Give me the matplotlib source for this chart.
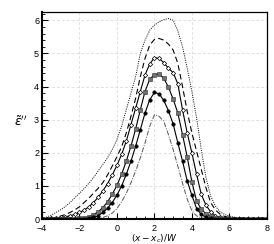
import matplotlib
matplotlib.use('Agg')
import matplotlib.pyplot as plt
import numpy as np
from matplotlib.ticker import MultipleLocator

plt.rcParams['font.family'] = ['Liberation Sans', 'DejaVu Sans']
plt.rcParams['mathtext.fontset'] = 'dejavusans'

# x positions (x - x_c)/W
x = np.arange(-4, 8.01, 0.25)

# profiles, outermost to innermost
dotted = [0.02, 0.06, 0.12, 0.2, 0.28, 0.38, 0.5, 0.64, 0.78, 0.92, 1.08, 1.25, 1.45,
          1.65, 1.85, 2.1, 2.4, 2.8, 3.3, 3.8, 4.3, 5.0, 5.4, 5.7, 5.85, 5.95, 6.02,
          6.05, 6.0, 5.68, 5.2, 4.55, 3.85, 3.05, 2.1, 1.25, 0.7, 0.4, 0.22, 0.14,
          0.09, 0.06, 0.04, 0.03, 0.02, 0.02, 0.01, 0.01, 0.01]
dashed = [0.0, 0.01, 0.03, 0.05, 0.09, 0.14, 0.2, 0.28, 0.37, 0.5, 0.63, 0.78, 0.93,
          1.1, 1.33, 1.6, 1.88, 2.18, 2.6, 3.1, 3.65, 4.3, 4.85, 5.25, 5.42, 5.45,
          5.4, 5.28, 5.1, 4.7, 4.0, 3.25, 2.6, 2.05, 1.5, 0.95, 0.5, 0.28, 0.15, 0.08,
          0.05, 0.03, 0.02, 0.01, 0.01, 0.01, 0.0, 0.0, 0.0]
diamond = [0.0, 0.01, 0.02, 0.03, 0.05, 0.07, 0.1, 0.14, 0.2, 0.27, 0.37, 0.5, 0.66,
           0.85, 1.07, 1.33, 1.62, 1.95, 2.35, 2.85, 3.35, 3.85, 4.35, 4.68, 4.87,
           4.85, 4.72, 4.55, 4.42, 4.08, 3.3, 2.6, 2.0, 1.35, 0.75, 0.42, 0.22, 0.1,
           0.05, 0.03, 0.02, 0.01, 0.01, 0.01, 0.0, 0.0, 0.0, 0.0, 0.0]
square = [0.0, 0.0, 0.0, 0.0, 0.0, 0.01, 0.01, 0.01, 0.02, 0.04, 0.07, 0.13, 0.22,
          0.35, 0.52, 0.75, 1.02, 1.35, 1.75, 2.2, 2.72, 3.3, 3.85, 4.22, 4.36, 4.38,
          4.25, 3.98, 3.62, 3.2, 2.55, 1.88, 1.12, 0.55, 0.3, 0.16, 0.08, 0.04, 0.02,
          0.01, 0.01, 0.0, 0.0, 0.0, 0.0, 0.0, 0.0, 0.0, 0.0]
circle = [0.0, 0.0, 0.0, 0.0, 0.0, 0.0, 0.0, 0.0, 0.0, 0.01, 0.02, 0.05, 0.1, 0.2,
          0.33, 0.5, 0.72, 1.0, 1.35, 1.75, 2.2, 2.7, 3.2, 3.6, 3.82, 3.78, 3.58,
          3.27, 2.87, 2.3, 1.75, 1.15, 0.72, 0.32, 0.14, 0.05, 0.02, 0.01, 0.0, 0.0,
          0.0, 0.0, 0.0, 0.0, 0.0, 0.0, 0.0, 0.0, 0.0]
dashdot = [0.0, 0.0, 0.0, 0.0, 0.0, 0.0, 0.0, 0.0, 0.0, 0.0, 0.0, 0.01, 0.02, 0.05,
           0.1, 0.18, 0.32, 0.52, 0.78, 1.1, 1.45, 1.85, 2.3, 2.8, 3.15, 3.1, 2.95,
           2.55, 2.1, 1.6, 1.08, 0.6, 0.25, 0.1, 0.04, 0.02, 0.01, 0.0, 0.0, 0.0,
           0.0, 0.0, 0.0, 0.0, 0.0, 0.0, 0.0, 0.0, 0.0]

fig = plt.figure(figsize=(2.74, 2.44), dpi=100)
ax = fig.add_axes([0.153, 0.102, 0.821, 0.849])

ax.plot(x, dotted, color='black', lw=0.7, ls=(0, (1, 1.3)))
ax.plot(x, dashed, color='black', lw=0.8, ls=(0, (5, 3)))
ax.plot(x, diamond, color='black', lw=0.8, marker='D', ms=2.2, mfc='white', mec='black', mew=0.5)
ax.plot(x, square, color='black', lw=0.8, marker='s', ms=2.3, mfc='#707070', mec='#303030', mew=0.4)
ax.plot(x, circle, color='black', lw=0.8, marker='o', ms=2.5, mfc='black', mec='black', mew=0.4)
ax.plot(x, dashdot, color='#555555', lw=0.7, ls=(0, (5, 1.5, 1, 1.5)))

ax.set_xlim(-4, 8)
ax.set_ylim(0, 6.25)
ax.xaxis.set_major_locator(MultipleLocator(2))
ax.xaxis.set_minor_locator(MultipleLocator(0.5))
ax.yaxis.set_major_locator(MultipleLocator(1))
ax.yaxis.set_minor_locator(MultipleLocator(0.2))
ax.tick_params(which='both', direction='in', top=False, right=False, labelsize=6.5)
ax.tick_params(axis='x', pad=3.5)
ax.tick_params(axis='y', pad=2)
ax.tick_params(which='major', length=4, width=0.8)
ax.tick_params(which='minor', length=2, width=0.6)
ax.grid(True, which='major', color='#d4d4d4', ls=(0, (4, 3)), lw=0.5)
ax.set_axisbelow(True)
for s in ['left', 'bottom']:
    ax.spines[s].set_linewidth(1.5)
for s in ['top', 'right']:
    ax.spines[s].set_linewidth(0.9)

ax.set_xlabel(r'$(x-x_c)/W$', fontsize=6.5, labelpad=0)
fig.text(0.075, 0.5, r"$\tilde{\varepsilon}''$", fontsize=9, ha='center', va='center')

fig.savefig('out.png', dpi=100)
